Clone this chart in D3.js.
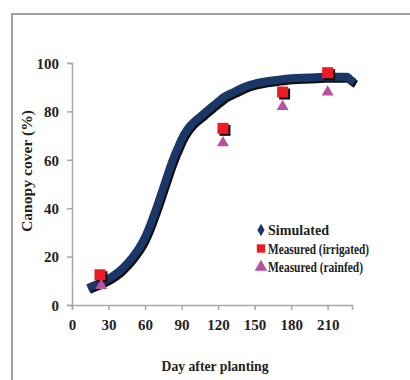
<!DOCTYPE html>
<html>
<head>
<meta charset="utf-8">
<script src="https://cdn.jsdelivr.net/npm/d3@7"></script>
<style>
  body { margin: 0; background: #fff; }
  text { font-family: "Liberation Serif", "Times New Roman", serif; font-weight: bold; fill: #222; }
</style>
</head>
<body>
<svg id="chart" width="410" height="380"></svg>
<script>
// simulated canopy cover (day, %)
const simDays = [13, 20, 28, 35, 40, 45, 50, 55, 59, 63, 66, 70, 73, 76, 78, 81, 84, 87, 90, 94, 97, 102, 108, 115, 120, 125, 133, 141, 150, 158, 168, 180, 195, 207, 218, 226, 229, 232];
const simValues = [7, 8.5, 10.3, 12.5, 14.5, 17, 20, 23.5, 27, 31.5, 35.5, 41, 45.5, 50, 53, 57.5, 61.5, 65, 68.5, 72, 74, 76.5, 79, 82, 84, 86, 88, 90, 91.5, 92.3, 93, 93.7, 94, 94.3, 94.3, 94.3, 93, 92];

// measured
const irrDays = [23, 124, 173, 210];
const irrValues = [12.5, 73, 88, 96];
const rainDays = [24, 124, 173, 210];
const rainValues = [8, 67, 82, 88];

const xTicks = [0, 30, 60, 90, 120, 150, 180, 210];
const yTicks = [0, 20, 40, 60, 80, 100];
const legendLabels = ['Simulated', 'Measured (irrigated)', 'Measured (rainfed)'];

const navy = '#1b3767', red = '#ec1c24', purple = '#b8519f', axisGray = '#a6a6a6';

const svg = d3.select('#chart');

// outer frame (only top/left edges fall inside the picture)
svg.append('rect')
  .attr('x', 12).attr('y', 14)
  .attr('width', 420).attr('height', 400)
  .attr('fill', 'none')
  .attr('stroke', '#a0a0a0')
  .attr('stroke-width', 2);

const x = d3.scaleLinear().domain([0, 230]).range([72, 352]);
const y = d3.scaleLinear().domain([0, 100]).range([305, 63]);

// axes
const xAxis = svg.append('g')
  .attr('transform', 'translate(0,' + y(0) + ')')
  .call(d3.axisBottom(x).tickValues(xTicks).tickSize(5).tickPadding(12));
const yAxis = svg.append('g')
  .attr('transform', 'translate(' + x(0) + ',0)')
  .call(d3.axisLeft(y).tickValues(yTicks).tickSize(5).tickPadding(8));

[xAxis, yAxis].forEach(function (a) {
  a.select('.domain').attr('stroke', axisGray).attr('stroke-width', 1.5);
  a.selectAll('.tick line').attr('stroke', axisGray).attr('stroke-width', 1.5);
  a.selectAll('.tick text')
    .attr('font-family', '"Liberation Serif", serif')
    .attr('font-weight', 'bold')
    .attr('font-size', 15)
    .attr('fill', '#222');
});
xAxis.selectAll('.tick text').attr('dy', '0.55em');
yAxis.selectAll('.tick text').attr('dy', '0.35em');

// axis titles
svg.append('text')
  .attr('x', 215).attr('y', 371)
  .attr('text-anchor', 'middle')
  .attr('font-size', 14.5)
  .attr('textLength', 107)
  .attr('lengthAdjust', 'spacingAndGlyphs')
  .text('Day after planting');
svg.append('text')
  .attr('transform', 'translate(32,' + 171 + ')rotate(-90)')
  .attr('text-anchor', 'middle')
  .attr('font-size', 15)
  .attr('textLength', 122)
  .attr('lengthAdjust', 'spacingAndGlyphs')
  .text('Canopy cover (%)');

// simulated band
const simData = simDays.map(function (d, i) { return [d, simValues[i]]; });
const line = d3.line()
  .x(function (d) { return x(d[0]); })
  .y(function (d) { return y(d[1]); })
  .curve(d3.curveMonotoneX);

svg.append('path')
  .datum(simData)
  .attr('d', line)
  .attr('transform', 'translate(1.5,2)')
  .attr('fill', 'none')
  .attr('stroke', '#111')
  .attr('stroke-width', 8)
  .attr('stroke-linejoin', 'round');
svg.append('path')
  .datum(simData)
  .attr('d', line)
  .attr('fill', 'none')
  .attr('stroke', navy)
  .attr('stroke-width', 8)
  .attr('stroke-linejoin', 'round');

// measured irrigated: squares with shadow
const irrData = irrDays.map(function (d, i) { return [d, irrValues[i]]; });
const sq = 11;
svg.append('g').selectAll('rect')
  .data(irrData).enter().append('rect')
  .attr('x', function (d) { return x(d[0]) - sq / 2 + 2; })
  .attr('y', function (d) { return y(d[1]) - sq / 2 + 2; })
  .attr('width', sq).attr('height', sq)
  .attr('fill', '#111');
svg.append('g').selectAll('rect')
  .data(irrData).enter().append('rect')
  .attr('x', function (d) { return x(d[0]) - sq / 2; })
  .attr('y', function (d) { return y(d[1]) - sq / 2; })
  .attr('width', sq).attr('height', sq)
  .attr('fill', red);

// measured rainfed: triangles
const rainData = rainDays.map(function (d, i) { return [d, rainValues[i]]; });
const tri = d3.symbol().type(d3.symbolTriangle).size(62);
svg.append('g').selectAll('path')
  .data(rainData).enter().append('path')
  .attr('d', tri)
  .attr('transform', function (d) { return 'translate(' + x(d[0]) + ',' + y(d[1]) + ')'; })
  .attr('fill', purple);

// legend
const legend = svg.append('g').attr('transform', 'translate(261,230)');
const rows = legend.selectAll('g')
  .data(legendLabels).enter().append('g')
  .attr('transform', function (d, i) { return 'translate(0,' + (i * 18.5) + ')'; });
rows.append('path')
  .attr('d', function (d, i) {
    if (i === 0) return d3.symbol().type(d3.symbolDiamond).size(45)();
    if (i === 1) return d3.symbol().type(d3.symbolSquare).size(70)();
    return d3.symbol().type(d3.symbolTriangle).size(70)();
  })
  .attr('fill', function (d, i) { return [navy, red, purple][i]; });
rows.append('text')
  .attr('x', 7).attr('dy', '0.35em')
  .attr('font-size', 14.5)
  .attr('textLength', function (d, i) { return [61, 101, 95][i]; })
  .attr('lengthAdjust', 'spacingAndGlyphs')
  .text(function (d) { return d; });
</script>
</body>
</html>
